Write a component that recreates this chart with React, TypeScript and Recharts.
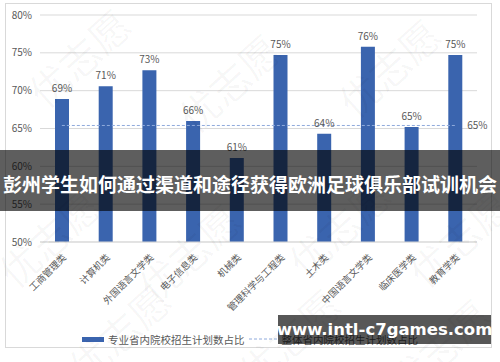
import { BarChart, Bar, Line, XAxis, YAxis, CartesianGrid, Legend, LabelList } from 'recharts'

const majors = ['工商管理类', '计算机类', '外国语言文学类', '电子信息类', '机械类', '管理科学与工程类', '土木类', '中国语言文学类', '临床医学类', '教育学类']
const majorShare = [68.9, 70.6, 72.7, 66.0, 61.1, 74.7, 64.3, 75.8, 65.2, 74.7]
const overallShare = [65.4, 65.4, 65.4, 65.4, 65.4, 65.4, 65.4, 65.4, 65.4, 65.4]
const yTicks = [50, 55, 60, 65, 70, 75, 80]

const BAR_NAME = '专业省内院校招生计划数占比'
const LINE_NAME = '整体省内院校招生计划数占比'

const data = majors.map((m, i) => ({ name: m, share: majorShare[i], overall: overallShare[i] }))

const FONT = '"Noto Sans CJK SC", "Noto Sans", sans-serif'

// rotated category labels
function AngledTick(props: any) {
  const { x, y, payload } = props
  return (
    <text
      x={x + 5}
      y={y + 8}
      transform={`rotate(-45 ${x + 5} ${y + 8})`}
      textAnchor="end"
      fontSize={9.5}
      fill="#595959"
      fontFamily={FONT}
    >
      {payload.value}
    </text>
  )
}

function LastPointLabel(props: any) {
  const { x, y, index, value } = props
  if (index !== overallShare.length - 1) return null
  return (
    <text x={x + 12} y={y + 4} fontSize={10} fill="#595959" fontFamily={FONT}>
      {Math.round(value)}%
    </text>
  )
}

function LegendBox() {
  return (
    <div style={{ display: 'flex', alignItems: 'center', height: 14, fontSize: 10.5, color: '#595959', fontFamily: FONT, paddingLeft: 82 }}>
      <span style={{ display: 'inline-block', width: 22, height: 5, background: '#3A64AE', marginRight: 4 }} />
      <span>{BAR_NAME}</span>
      <svg width={30} height={6} style={{ margin: '0 3px 0 4px' }}>
        <line x1={0} y1={3} x2={30} y2={3} stroke="#8FAADC" strokeWidth={1} strokeDasharray="3 2" />
      </svg>
      <span>{LINE_NAME}</span>
    </div>
  )
}

const watermarks = [
  [90, 70], [240, 95], [400, 80], [60, 250], [200, 265], [350, 240], [470, 250], [130, 345], [300, 350], [450, 360],
]

export default function App() {
  return (
    <div style={{ position: 'absolute', left: 0, top: 0, width: 500, height: 362, background: '#fff', overflow: 'hidden' }}>
      <div style={{ position: 'absolute', left: 5, top: 3, width: 485, height: 343, border: '1px solid #d9d9d9' }} />
      <BarChart width={500} height={362} data={data} margin={{ top: 15, right: 23, left: 0, bottom: 0 }}>
        <CartesianGrid vertical={false} stroke="#d9d9d9" />
        <XAxis
          dataKey="name"
          interval={0}
          tick={<AngledTick />}
          tickLine={false}
          axisLine={{ stroke: '#d9d9d9' }}
          height={106}
        />
        <YAxis
          domain={[50, 80]}
          ticks={yTicks}
          width={40}
          tickLine={false}
          axisLine={false}
          tickFormatter={(v: number) => `${v}%`}
          tick={{ fontSize: 10, fill: '#595959', fontFamily: FONT }}
        />
        <Legend verticalAlign="bottom" wrapperStyle={{ top: 332, left: 0 }} content={<LegendBox />} />
        <Bar dataKey="share" name={BAR_NAME} fill="#3A64AE" barSize={14} isAnimationActive={false}>
          <LabelList
            dataKey="share"
            position="top"
            offset={7}
            formatter={(v: any) => `${Math.round(v)}%`}
            style={{ fontSize: 10, fill: '#595959', fontFamily: FONT }}
          />
        </Bar>
        <Line
          dataKey="overall"
          name={LINE_NAME}
          stroke="#8FAADC"
          strokeWidth={1}
          strokeDasharray="3 2"
          dot={false}
          isAnimationActive={false}
        >
          <LabelList dataKey="overall" content={<LastPointLabel />} />
        </Line>
      </BarChart>
      <svg width={500} height={362} style={{ position: 'absolute', left: 0, top: 0, pointerEvents: 'none' }}>
        {watermarks.map(([x, y], i) => (
          <text
            key={i}
            x={x}
            y={y}
            transform={`rotate(-42 ${x} ${y})`}
            textAnchor="middle"
            fontSize={40}
            fontFamily={FONT}
            fill="#000"
            fillOpacity={0.035}
          >
            优志愿
          </text>
        ))}
      </svg>
      <div
        style={{
          position: 'absolute',
          left: 0,
          top: 150,
          width: 500,
          height: 61,
          background: 'rgba(0,0,0,0.63)',
          display: 'flex',
          alignItems: 'center',
          justifyContent: 'center',
          paddingTop: 6,
          boxSizing: 'border-box',
          color: '#fff',
          fontWeight: 'bold',
          fontSize: 19,
          fontFamily: FONT,
          whiteSpace: 'nowrap',
        }}
      >
        彭州学生如何通过渠道和途径获得欧洲足球俱乐部试训机会
      </div>
      <div
        style={{
          position: 'absolute',
          left: 278,
          top: 315,
          width: 213,
          height: 29,
          background: 'rgba(0,0,0,0.66)',
          display: 'flex',
          alignItems: 'center',
          justifyContent: 'center',
          color: '#fff',
          fontWeight: 'bold',
          fontSize: 16.5,
          fontFamily: '"DejaVu Sans", sans-serif',
          whiteSpace: 'nowrap',
        }}
      >
        www.intl-c7games.com
      </div>
    </div>
  )
}
